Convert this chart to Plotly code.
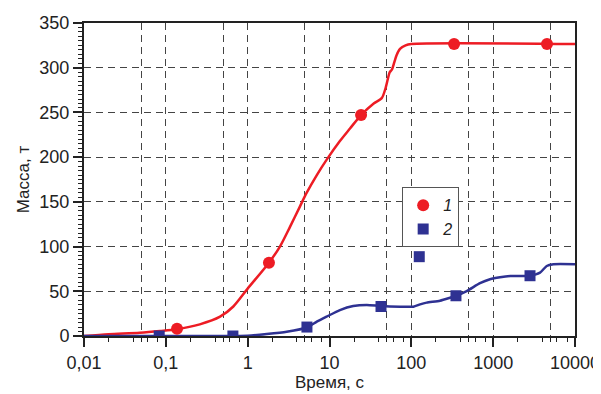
import plotly.graph_objects as go

# ---- data ----
red_curve_t = [0.01, 0.02, 0.048, 0.085, 0.135, 0.26, 0.46, 0.668, 1.0, 1.82, 2.48, 3.29,
               4.36, 5.25, 7.0, 9.2, 13.4, 17.8, 24.3, 34.7, 43.5, 48.4, 54.5, 58, 62.8, 66,
               72.7, 85, 100, 10000]
red_curve_m = [0, 2, 3.7, 5.6, 7.5, 13, 21.6, 33, 53, 82, 100, 122,
               145, 160, 180, 197, 218, 232, 247, 260, 266, 277, 295, 298, 308, 314,
               321, 325, 326.5, 326.5]

blue_curve_t = [0.01, 0.26, 1.0, 1.71, 3.0, 5.3, 7.0, 9.2, 13.4, 19.5, 28.5, 42.6, 72.7,
                106, 128, 154, 224, 297, 351, 475, 690, 915, 1213, 1620, 2820, 3735,
                4510, 5450, 10000]
blue_curve_m = [0, 0, 0.3, 2.2, 4.8, 9.5, 16, 21.6, 29, 33.5, 34.7, 33.5, 32.8,
                32.8, 35.4, 37.3, 39.5, 42.8, 45, 50.3, 59, 63.4, 65.6, 67, 67.4, 70.8,
                78.3, 80.2, 80.2]

red_pts_t = [0.137, 1.82, 24.3, 333, 4550]
red_pts_m = [8, 82, 247, 326.5, 326.5]

blue_pts_t = [0.083, 0.66, 5.3, 42.6, 125, 351, 2820]
blue_pts_m = [0, 0, 10, 33, 88.7, 45, 67.4]

x_major = [0.01, 0.1, 1, 10, 100, 1000, 10000]
x_major_text = ["0,01", "0,1", "1", "10", "100", "1000", "10000"]
x_minor_mult = [2, 4, 5, 6, 8]
x_grid = [0.05, 0.1, 0.5, 1, 5, 10, 50, 100, 500, 1000, 5000]

legend_names = ["1", "2"]

RED = "#ed1c24"
BLUE = "#2e3192"
FONT = "Liberation Sans"

x_minor = [d * m for d in x_major[:-1] for m in x_minor_mult]

fig = go.Figure()
fig.add_trace(go.Scatter(x=red_curve_t, y=red_curve_m, mode="lines",
                         line=dict(color=RED, width=2.5, shape="spline", smoothing=0.8),
                         showlegend=False, hoverinfo="skip"))
fig.add_trace(go.Scatter(x=blue_curve_t, y=blue_curve_m, mode="lines",
                         line=dict(color=BLUE, width=2.5, shape="spline", smoothing=0.6),
                         showlegend=False, hoverinfo="skip"))
fig.add_trace(go.Scatter(x=red_pts_t, y=red_pts_m, mode="markers", name=legend_names[0],
                         marker=dict(symbol="circle", size=12, color=RED)))
fig.add_trace(go.Scatter(x=blue_pts_t, y=blue_pts_m, mode="markers", name=legend_names[1],
                         marker=dict(symbol="square", size=11, color=BLUE)))
# invisible trace to anchor the grid overlay axis
fig.add_trace(go.Scatter(x=[0.01], y=[0], xaxis="x2", mode="markers",
                         marker=dict(opacity=0), showlegend=False, hoverinfo="skip"))

fig.update_layout(
    width=593, height=386,
    margin=dict(l=76, r=26, t=15, b=58, autoexpand=False),
    paper_bgcolor="white", plot_bgcolor="white",
    font=dict(family=FONT, size=18, color="#222"),
    showlegend=True,
    legend=dict(x=0.648, y=0.475, xanchor="left", yanchor="top",
                bgcolor="white", bordercolor="#555", borderwidth=1,
                font=dict(family=FONT, size=16, style="italic", color="#222"),
                itemwidth=30, tracegroupgap=0),
    xaxis=dict(type="log", range=[-2, 4], tickmode="array", tickvals=x_major,
               ticktext=x_major_text, ticks="outside", ticklen=9, tickwidth=1.5,
               tickcolor="#222", showgrid=False, zeroline=False,
               showline=True, linecolor="#222", linewidth=2, mirror=True,
               tickfont=dict(family=FONT, size=18, color="#222"),
               minor=dict(tickmode="array", tickvals=x_minor, ticks="outside",
                          ticklen=4, tickwidth=1.2, tickcolor="#222", showgrid=False),
               title=dict(text="Время, с", font=dict(family=FONT, size=17, color="#222"),
                          standoff=5),
               automargin=False),
    xaxis2=dict(type="log", range=[-2, 4], overlaying="x", tickmode="array",
                tickvals=x_grid, showticklabels=False, ticks="", showline=False,
                showgrid=True, gridcolor="#444", gridwidth=1.2, griddash="7px,5px",
                zeroline=False, anchor="y", side="bottom", automargin=False),
    yaxis=dict(range=[0, 350], tickmode="array", tickvals=list(range(0, 351, 50)),
               ticks="outside", ticklen=9, tickwidth=1.5, tickcolor="#222",
               showgrid=True, gridcolor="#444", gridwidth=1.2, griddash="7px,5px",
               zeroline=False, showline=True, linecolor="#222", linewidth=2, mirror=True,
               tickfont=dict(family=FONT, size=18, color="#222"),
               minor=dict(dtick=5, tick0=0, ticks="outside", ticklen=4, tickwidth=1,
                          tickcolor="#222", showgrid=False),
               title=dict(text="Масса, т", font=dict(family=FONT, size=17, color="#222"),
                          standoff=5),
               automargin=False),
)

fig.write_html("out.html")
